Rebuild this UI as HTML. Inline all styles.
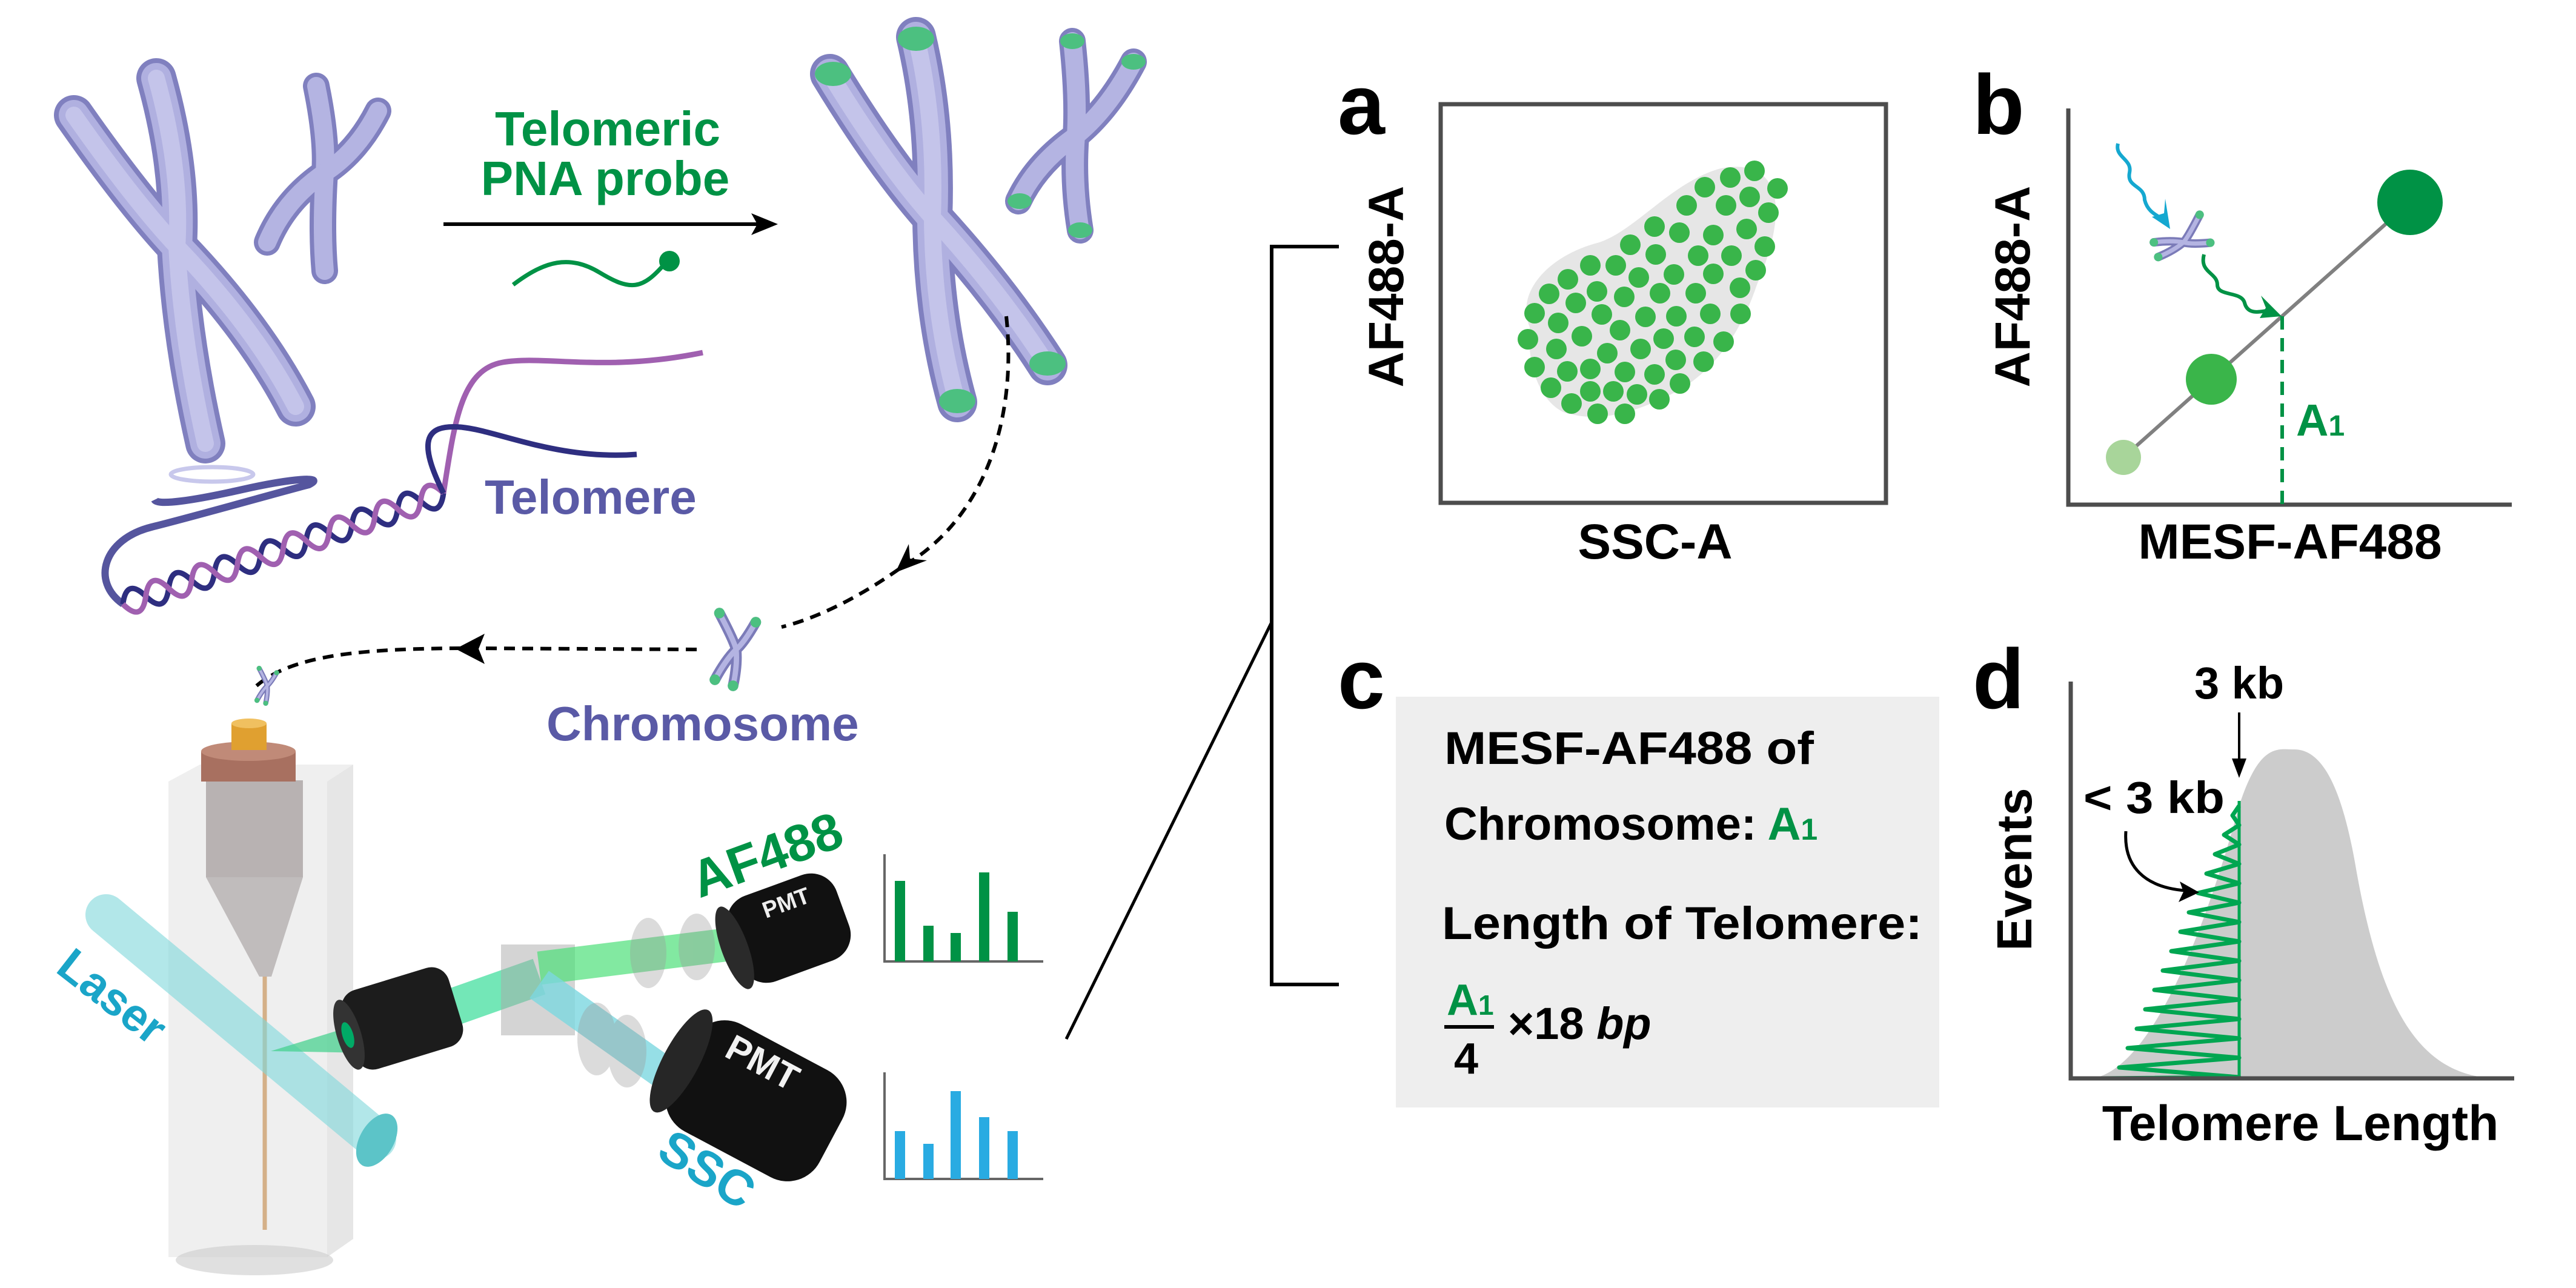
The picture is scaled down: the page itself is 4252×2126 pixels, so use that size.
<!DOCTYPE html>
<html><head><meta charset="utf-8">
<style>html,body{margin:0;padding:0;background:#fff}svg{display:block}
text{font-family:"Liberation Sans",Arial,sans-serif;font-weight:bold}</style></head>
<body>
<svg width="4252" height="2126" viewBox="0 0 4252 2126" xmlns="http://www.w3.org/2000/svg">
<defs>
<g id="mini">
  <path d="M-22,-48 Q-2,-10 0,0 Q2,20 -4,48" fill="none" stroke="#7b7bb8" stroke-width="14" stroke-linecap="round"/>
  <path d="M26,-36 Q10,-8 0,0 Q-14,14 -28,40" fill="none" stroke="#7b7bb8" stroke-width="14" stroke-linecap="round"/>
  <path d="M-22,-48 Q-2,-10 0,0 Q2,20 -4,48" fill="none" stroke="#b4b4e2" stroke-width="7" stroke-linecap="round"/>
  <path d="M26,-36 Q10,-8 0,0 Q-14,14 -28,40" fill="none" stroke="#b4b4e2" stroke-width="7" stroke-linecap="round"/>
  <circle cx="-22" cy="-48" r="7" fill="#4cc080"/><circle cx="26" cy="-36" r="7" fill="#4cc080"/>
  <circle cx="-4" cy="48" r="7" fill="#4cc080"/><circle cx="-28" cy="40" r="7" fill="#4cc080"/>
</g>
</defs>

<g fill="none" stroke-linecap="round">
  <path d="M122,190 Q220,330 292,407 Q420,540 488,671" stroke="#8080bf" stroke-width="66"/>
  <path d="M258,129 Q300,280 292,407 Q300,560 339,732" stroke="#8080bf" stroke-width="66"/>
  <path d="M122,190 Q220,330 292,407 Q420,540 488,671" stroke="#b0b0e0" stroke-width="50"/>
  <path d="M258,129 Q300,280 292,407 Q300,560 339,732" stroke="#b0b0e0" stroke-width="50"/>
  <path d="M122,190 Q220,330 292,407 Q420,540 488,671" stroke="#c4c4ea" stroke-width="28"/>
  <path d="M258,129 Q300,280 292,407 Q300,560 339,732" stroke="#c4c4ea" stroke-width="28"/>
  <path d="M522,142 Q540,230 536,285 Q530,380 536,447" stroke="#8080bf" stroke-width="44"/>
  <path d="M624,183 Q590,250 536,285 Q470,330 441,400" stroke="#8080bf" stroke-width="44"/>
  <path d="M522,142 Q540,230 536,285 Q530,380 536,447" stroke="#b4b4e2" stroke-width="30"/>
  <path d="M624,183 Q590,250 536,285 Q470,330 441,400" stroke="#b4b4e2" stroke-width="30"/>
  <path d="M1370,122 Q1460,270 1539,359 Q1650,480 1729,603" stroke="#8080bf" stroke-width="66"/>
  <path d="M1512,61 Q1545,200 1539,359 Q1540,520 1580,664" stroke="#8080bf" stroke-width="66"/>
  <path d="M1370,122 Q1460,270 1539,359 Q1650,480 1729,603" stroke="#b0b0e0" stroke-width="50"/>
  <path d="M1512,61 Q1545,200 1539,359 Q1540,520 1580,664" stroke="#b0b0e0" stroke-width="50"/>
  <path d="M1370,122 Q1460,270 1539,359 Q1650,480 1729,603" stroke="#c4c4ea" stroke-width="28"/>
  <path d="M1512,61 Q1545,200 1539,359 Q1540,520 1580,664" stroke="#c4c4ea" stroke-width="28"/>
  <path d="M1770,68 Q1780,160 1776,224 Q1770,300 1783,380" stroke="#8080bf" stroke-width="44"/>
  <path d="M1871,102 Q1830,180 1776,224 Q1710,270 1681,332" stroke="#8080bf" stroke-width="44"/>
  <path d="M1770,68 Q1780,160 1776,224 Q1770,300 1783,380" stroke="#b4b4e2" stroke-width="30"/>
  <path d="M1871,102 Q1830,180 1776,224 Q1710,270 1681,332" stroke="#b4b4e2" stroke-width="30"/>
</g>
<g fill="#4cc080">
  <ellipse cx="1375" cy="122" rx="30" ry="20"/><ellipse cx="1512" cy="64" rx="30" ry="20"/>
  <ellipse cx="1580" cy="662" rx="30" ry="20"/><ellipse cx="1729" cy="600" rx="30" ry="20"/>
  <ellipse cx="1770" cy="68" rx="20" ry="13"/><ellipse cx="1871" cy="102" rx="20" ry="13"/>
  <ellipse cx="1683" cy="332" rx="20" ry="13"/><ellipse cx="1783" cy="380" rx="20" ry="13"/>
</g>

<text x="1003" y="240" font-size="80" fill="#009245" text-anchor="middle">Telomeric</text>
<text x="999" y="322" font-size="80" fill="#009245" text-anchor="middle">PNA probe</text>
<line x1="732" y1="370" x2="1260" y2="370" stroke="#000" stroke-width="6"/>
<polygon points="1284,370 1240,352 1250,370 1240,388" fill="#000"/>
<path d="M847,470 C900,430 940,420 990,450 S1060,480 1100,432" fill="none" stroke="#009245" stroke-width="7"/>
<circle cx="1105" cy="431" r="17" fill="#009245"/>

<ellipse cx="350" cy="783" rx="68" ry="12" fill="none" stroke="#c8c8ec" stroke-width="7"/>
<path d="M203,997 C150,960 170,890 250,870 S470,810 510,800 C540,785 480,790 400,808 S260,835 255,825" fill="none" stroke="#55559e" stroke-width="12"/>
<g transform="translate(732,814) rotate(160.9)">
<path d="M0,0 q20,-40 40,0 t40,0 t40,0 t40,0 t40,0 t40,0 t40,0 t40,0 t40,0 t40,0 t40,0 t40,0 t40,0 t40,0" fill="none" stroke="#2e2e80" stroke-width="9"/>
<path d="M0,0 q20,40 40,0 t40,0 t40,0 t40,0 t40,0 t40,0 t40,0 t40,0 t40,0 t40,0 t40,0 t40,0 t40,0 t40,0" fill="none" stroke="#a060b0" stroke-width="9"/>
</g>
<path d="M732,814 C750,700 760,610 830,598 S1000,615 1160,582" fill="none" stroke="#a060b0" stroke-width="9"/>
<path d="M732,814 C690,730 700,700 760,705 S920,760 1051,750" fill="none" stroke="#2e2e80" stroke-width="9"/>
<text x="800" y="848" font-size="80" fill="#5a5aa6">Telomere</text>

<path d="M1661,522 C1680,700 1620,860 1490,935 C1420,985 1350,1020 1290,1035" fill="none" stroke="#000" stroke-width="6" stroke-dasharray="18,12"/>
<polygon points="1478,945 1500,898 1502,922 1530,925" fill="#000"/>
<path d="M1150,1072 L780,1070 C600,1070 480,1080 420,1135" fill="none" stroke="#000" stroke-width="6" stroke-dasharray="18,12"/>
<polygon points="752,1071 800,1046 790,1071 800,1096" fill="#000"/>
<use href="#mini" transform="translate(1215,1072) scale(1.25)"/>
<use href="#mini" transform="translate(441,1132) scale(0.6)"/>
<text x="902" y="1222" font-size="80" fill="#5a5aa6">Chromosome</text>

<polygon points="278,1290 540,1290 583,1262 330,1262" fill="#e8e8e8" opacity="0.7"/>
<rect x="278" y="1290" width="262" height="785" fill="#d8d8d8" opacity="0.4"/>
<polygon points="540,1290 583,1262 583,2045 540,2075" fill="#c8c8c8" opacity="0.45"/>
<ellipse cx="420" cy="2080" rx="130" ry="25" fill="#ccc" opacity="0.6"/>
<rect x="340" y="1288" width="160" height="160" fill="#8a7f7f" opacity="0.55"/>
<polygon points="340,1448 500,1448 448,1612 428,1612" fill="#a09a9a" opacity="0.6"/>
<line x1="437" y1="1612" x2="437" y2="2030" stroke="#d4b088" stroke-width="7"/>
<rect x="332" y="1240" width="156" height="50" fill="#a87060"/>
<ellipse cx="410" cy="1240" rx="78" ry="16" fill="#c08a78"/>
<rect x="382" y="1194" width="58" height="44" fill="#e0a030"/>
<ellipse cx="411" cy="1194" rx="29" ry="8" fill="#f0c060"/>
<line x1="175" y1="1510" x2="620" y2="1880" stroke="#7fd8dc" stroke-width="68" stroke-linecap="round" opacity="0.6"/>
<ellipse cx="622" cy="1882" rx="28" ry="48" transform="rotate(30 622 1882)" fill="#5cc4c8"/>
<text x="183" y="1670" font-size="76" fill="#1aa5c8" text-anchor="middle" transform="rotate(38 183 1648)">Laser</text>
<polygon points="447,1735 600,1688 606,1738" fill="#3ed08a" opacity="0.7"/>
<line x1="740" y1="1665" x2="890" y2="1612" stroke="#45dfa0" stroke-width="62" opacity="0.75"/>
<rect x="827" y="1559" width="122" height="150" fill="#aaa" opacity="0.5"/>
<line x1="890" y1="1598" x2="1235" y2="1555" stroke="#4ee07a" stroke-width="55" opacity="0.7"/>
<line x1="890" y1="1625" x2="1130" y2="1795" stroke="#7dd8e0" stroke-width="55" opacity="0.8"/>
<g fill="#999" opacity="0.35">
<ellipse cx="1070" cy="1573" rx="30" ry="58"/><ellipse cx="1150" cy="1563" rx="30" ry="55"/>
<ellipse cx="985" cy="1715" rx="32" ry="60"/><ellipse cx="1035" cy="1735" rx="32" ry="60"/>
</g>
<g transform="translate(664,1681) rotate(-17)">
<rect x="-92" y="-68" width="184" height="136" rx="30" fill="#1c1c1c"/>
<ellipse cx="-92" cy="0" rx="20" ry="60" fill="#333"/>
<ellipse cx="-94" cy="0" rx="9" ry="22" fill="#0a6"/>
</g>
<g transform="translate(1302,1532) rotate(-20)">
<rect x="-95" y="-75" width="190" height="150" rx="45" fill="#111"/>
<ellipse cx="-95" cy="0" rx="22" ry="72" fill="#2a2a2a"/>
<text x="10" y="-28" font-size="38" fill="#eee" text-anchor="middle">PMT</text>
</g>
<text x="1268" y="1440" font-size="86" fill="#009245" text-anchor="middle" transform="rotate(-20 1268 1417)">AF488</text>
<g transform="translate(1248,1817) rotate(28)">
<rect x="-140" y="-100" width="280" height="200" rx="60" fill="#111"/>
<ellipse cx="-140" cy="0" rx="30" ry="95" fill="#262626"/>
<text x="-20" y="-40" font-size="60" fill="#f2f2f2" text-anchor="middle">PMT</text>
</g>
<text x="1166" y="1958" font-size="82" fill="#1aa5c8" text-anchor="middle" transform="rotate(32 1166 1932)">SSC</text>
<path d="M1460,1410 V1587 H1722" fill="none" stroke="#666" stroke-width="4"/>
<g fill="#009245">
<rect x="1477" y="1454" width="17" height="133"/><rect x="1524" y="1528" width="17" height="59"/>
<rect x="1569" y="1540" width="17" height="47"/><rect x="1616" y="1440" width="17" height="147"/>
<rect x="1663" y="1505" width="17" height="82"/></g>
<path d="M1460,1770 V1946 H1722" fill="none" stroke="#666" stroke-width="4"/>
<g fill="#29abe2">
<rect x="1477" y="1867" width="17" height="79"/><rect x="1524" y="1888" width="17" height="58"/>
<rect x="1569" y="1801" width="17" height="145"/><rect x="1616" y="1844" width="17" height="102"/>
<rect x="1663" y="1867" width="17" height="79"/></g>

<path d="M2210,407 H2099 V1625 H2210" fill="none" stroke="#000" stroke-width="6"/>
<line x1="2099" y1="1027" x2="1760" y2="1715" stroke="#000" stroke-width="5"/>

<text x="2208" y="221" font-size="140" fill="#000">a</text>
<rect x="2378" y="172" width="735" height="658" fill="none" stroke="#4d4d4d" stroke-width="7"/>
<text x="2345" y="502" font-size="82" fill="#000" text-anchor="middle" transform="rotate(-90 2316 502)">AF488-A</text>
<text x="2732" y="922" font-size="82" fill="#000" text-anchor="middle">SSC-A</text>
<path d="M2525,540 C2500,480 2560,420 2640,400 C2700,380 2760,300 2840,278 C2930,260 2960,330 2900,470 C2870,560 2820,620 2760,650 C2700,680 2640,700 2580,680 C2540,660 2520,600 2525,540Z" fill="#e6e6e6"/>
<g fill="#39b54a">
<circle cx="2896" cy="282" r="17"/><circle cx="2856" cy="293" r="17"/><circle cx="2934" cy="311" r="17"/><circle cx="2814" cy="309" r="17"/><circle cx="2888" cy="325" r="17"/><circle cx="2784" cy="339" r="17"/><circle cx="2849" cy="339" r="17"/><circle cx="2919" cy="351" r="17"/>
<circle cx="2731" cy="374" r="17"/><circle cx="2772" cy="384" r="17"/><circle cx="2828" cy="388" r="17"/><circle cx="2883" cy="378" r="17"/><circle cx="2913" cy="407" r="17"/><circle cx="2691" cy="404" r="17"/><circle cx="2733" cy="420" r="17"/><circle cx="2803" cy="422" r="17"/><circle cx="2858" cy="422" r="17"/><circle cx="2898" cy="446" r="17"/>
<circle cx="2625" cy="438" r="17"/><circle cx="2667" cy="438" r="17"/><circle cx="2705" cy="458" r="17"/><circle cx="2763" cy="453" r="17"/><circle cx="2828" cy="452" r="17"/><circle cx="2588" cy="461" r="17"/><circle cx="2557" cy="485" r="17"/><circle cx="2601" cy="500" r="17"/><circle cx="2636" cy="481" r="17"/><circle cx="2681" cy="490" r="17"/><circle cx="2740" cy="484" r="17"/><circle cx="2799" cy="484" r="17"/><circle cx="2872" cy="475" r="17"/>
<circle cx="2533" cy="517" r="17"/><circle cx="2572" cy="533" r="17"/><circle cx="2644" cy="519" r="17"/><circle cx="2716" cy="523" r="17"/><circle cx="2767" cy="522" r="17"/><circle cx="2823" cy="518" r="17"/><circle cx="2873" cy="518" r="17"/>
<circle cx="2522" cy="560" r="17"/><circle cx="2569" cy="576" r="17"/><circle cx="2611" cy="555" r="17"/><circle cx="2674" cy="545" r="17"/><circle cx="2746" cy="559" r="17"/><circle cx="2797" cy="556" r="17"/><circle cx="2845" cy="564" r="17"/>
<circle cx="2533" cy="606" r="17"/><circle cx="2587" cy="613" r="17"/><circle cx="2653" cy="583" r="17"/><circle cx="2708" cy="576" r="17"/><circle cx="2766" cy="594" r="17"/><circle cx="2812" cy="597" r="17"/>
<circle cx="2560" cy="640" r="17"/><circle cx="2625" cy="609" r="17"/><circle cx="2682" cy="614" r="17"/><circle cx="2731" cy="618" r="17"/><circle cx="2594" cy="666" r="17"/><circle cx="2625" cy="646" r="17"/><circle cx="2663" cy="646" r="17"/><circle cx="2702" cy="651" r="17"/><circle cx="2739" cy="659" r="17"/><circle cx="2773" cy="633" r="17"/>
<circle cx="2637" cy="683" r="17"/><circle cx="2682" cy="683" r="17"/>
</g>

<text x="3256" y="221" font-size="140" fill="#000">b</text>
<path d="M3414,179 V833 H4146" fill="none" stroke="#4d4d4d" stroke-width="7"/>
<text x="3379" y="502" font-size="82" fill="#000" text-anchor="middle" transform="rotate(-90 3350 502)">AF488-A</text>
<text x="3780" y="922" font-size="82" fill="#000" text-anchor="middle">MESF-AF488</text>
<line x1="3505" y1="755" x2="3978" y2="334" stroke="#808080" stroke-width="6"/>
<line x1="3767" y1="522" x2="3767" y2="833" stroke="#009245" stroke-width="6" stroke-dasharray="22,14"/>
<circle cx="3505" cy="755" r="29" fill="#a8d59a"/>
<circle cx="3650" cy="626" r="42" fill="#3ab54a"/>
<circle cx="3978" cy="334" r="54" fill="#009245"/>
<text x="3790" y="719" font-size="74" fill="#009245">A<tspan font-size="48">1</tspan></text>
<path d="M3496,237 C3490,260 3520,262 3515,285 C3510,310 3540,305 3540,330 C3545,350 3560,355 3570,362" fill="none" stroke="#15a8d0" stroke-width="6"/>
<polygon points="3582,378 3552,358 3572,352 3574,328" fill="#15a8d0"/>
<use href="#mini" transform="translate(3604,400) rotate(55) scale(1.0)"/>
<path d="M3638,420 C3630,450 3660,450 3660,470 C3660,490 3700,480 3705,500 C3710,520 3730,515 3745,512" fill="none" stroke="#009245" stroke-width="6"/>
<polygon points="3766,522 3730,525 3740,508 3732,488" fill="#009245"/>

<text x="2208" y="1169" font-size="140" fill="#000">c</text>
<rect x="2304" y="1150" width="897" height="678" fill="#eeeeee"/>
<text x="2384" y="1261" font-size="76" fill="#000" textLength="610" lengthAdjust="spacingAndGlyphs">MESF-AF488 of</text>
<text x="2384" y="1386" font-size="76" fill="#000">Chromosome: <tspan fill="#009245">A</tspan><tspan fill="#009245" font-size="50">1</tspan></text>
<text x="2380" y="1550" font-size="76" fill="#000" textLength="793" lengthAdjust="spacingAndGlyphs">Length of Telomere:</text>
<text x="2388" y="1675" font-size="72" fill="#009245">A<tspan font-size="46">1</tspan></text>
<line x1="2384" y1="1695" x2="2466" y2="1695" stroke="#000" stroke-width="6"/>
<text x="2400" y="1772" font-size="72" fill="#000">4</text>
<text x="2489" y="1715" font-size="74" fill="#000">×18 <tspan font-style="italic">bp</tspan></text>

<text x="3256" y="1169" font-size="140" fill="#000">d</text>
<path d="M3455,1780 C3560,1760 3650,1500 3696,1330 C3730,1225 3760,1237 3787,1237 C3830,1237 3865,1290 3890,1440 C3930,1660 3990,1775 4119,1780 Z" fill="#cccccc"/>
<polyline points="3696,1330 3685,1346 3696,1362 3671,1378 3696,1394 3656,1410 3696,1426 3642,1442 3696,1458 3628,1474 3696,1490 3613,1506 3696,1522 3599,1538 3696,1554 3584,1570 3696,1586 3570,1602 3696,1618 3556,1634 3696,1650 3541,1666 3696,1682 3527,1698 3696,1714 3512,1730 3696,1746 3498,1762 3696,1778 3470,1780" fill="none" stroke="#00a651" stroke-width="7" stroke-linejoin="round"/>
<line x1="3696" y1="1322" x2="3696" y2="1780" stroke="#00a651" stroke-width="5"/>
<path d="M3418,1125 V1780 H4150" fill="none" stroke="#4d4d4d" stroke-width="7"/>
<text x="3696" y="1153" font-size="74" fill="#000" text-anchor="middle">3 kb</text>
<line x1="3696" y1="1176" x2="3696" y2="1262" stroke="#000" stroke-width="4"/>
<polygon points="3696,1284 3684,1252 3708,1252" fill="#000"/>
<text x="3439" y="1342" font-size="74" fill="#000" textLength="233" lengthAdjust="spacingAndGlyphs">&lt; 3 kb</text>
<path d="M3509,1372 C3505,1430 3540,1465 3608,1470" fill="none" stroke="#000" stroke-width="5"/>
<polygon points="3630,1473 3598,1455 3604,1472 3596,1489" fill="#000"/>
<text x="3382" y="1464" font-size="82" fill="#000" text-anchor="middle" transform="rotate(-90 3353 1464)">Events</text>
<text x="3797" y="1882" font-size="82" fill="#000" text-anchor="middle">Telomere Length</text>
</svg>
</body></html>
